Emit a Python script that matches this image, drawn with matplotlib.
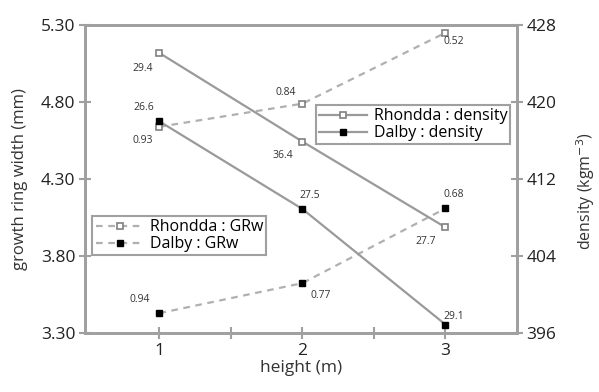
import matplotlib.pyplot as plt

plt.rcParams['font.family'] = ['Open Sans', 'DejaVu Sans']

# datos
altura = [1, 2, 3]
grw_rhondda = [4.64, 4.79, 5.25]
grw_dalby = [3.43, 3.625, 4.11]
dens_rhondda = [425.1, 415.9, 407.0]
dens_dalby = [418.0, 408.9, 396.9]

# etiquetas de los puntos
lab_grw_rhondda = ['0.93', '0.84', '0.52']
lab_grw_dalby = ['0.94', '0.77', '0.68']
lab_dens_rhondda = ['29.4', '36.4', '27.7']
lab_dens_dalby = ['26.6', '27.5', '29.1']

gris = '#9a9a9a'
eje = '#a0a0a0'

fig = plt.figure(figsize=(5.99, 3.92), dpi=100)
ax = fig.add_axes([0.142, 0.15, 0.721, 0.786])
ax2 = ax.twinx()

# crecimiento (eje izquierdo), líneas discontinuas
ax.plot(altura, grw_rhondda, ls=(0, (3, 2.5)), color='#b0b0b0', lw=1.6,
        marker='s', ms=5, mfc='white', mec='#808080', mew=1.2, label='Rhondda : GRw')
ax.plot(altura, grw_dalby, ls=(0, (3, 2.5)), color='#b0b0b0', lw=1.6,
        marker='s', ms=5, mfc='black', mec='black', label='Dalby : GRw')

# densidad (eje derecho), líneas continuas
ax2.plot(altura, dens_rhondda, ls='-', color=gris, lw=1.6,
         marker='s', ms=5, mfc='white', mec='#808080', mew=1.2, label='Rhondda : density')
ax2.plot(altura, dens_dalby, ls='-', color=gris, lw=1.6,
         marker='s', ms=5, mfc='black', mec='black', label='Dalby : density')

fs = 7.5
off_grw_rhondda = [(-12, -10), (-12, 8), (6, -6)]
off_grw_dalby = [(-14, 10), (13, -9), (6, 10)]
off_dens_rhondda = [(-12, -11), (-14, -10), (-14, -10)]
off_dens_dalby = [(-11, 10), (5, 10), (6, 6)]

for i, x in enumerate(altura):
    ax.annotate(lab_grw_rhondda[i], (x, grw_rhondda[i]), xytext=off_grw_rhondda[i],
                textcoords='offset points', ha='center', va='center', fontsize=fs, color='#333333')
    ax.annotate(lab_grw_dalby[i], (x, grw_dalby[i]), xytext=off_grw_dalby[i],
                textcoords='offset points', ha='center', va='center', fontsize=fs, color='#333333')
    ax2.annotate(lab_dens_rhondda[i], (x, dens_rhondda[i]), xytext=off_dens_rhondda[i],
                 textcoords='offset points', ha='center', va='center', fontsize=fs, color='#333333')
    ax2.annotate(lab_dens_dalby[i], (x, dens_dalby[i]), xytext=off_dens_dalby[i],
                 textcoords='offset points', ha='center', va='center', fontsize=fs, color='#333333')

ax.set_xlim(0.48, 3.5)
ax.set_ylim(3.30, 5.30)
ax2.set_ylim(396, 428)
ax.set_xticks([1, 2, 3])
ax.set_xticks([1.5, 2.5], minor=True)
ax.set_yticks([3.30, 3.80, 4.30, 4.80, 5.30])
ax.set_yticklabels(['3.30', '3.80', '4.30', '4.80', '5.30'])
ax2.set_yticks([396, 404, 412, 420, 428])

for a in (ax, ax2):
    for s in a.spines.values():
        s.set_color(eje)
        s.set_linewidth(2)
    a.tick_params(direction='inout', length=8, width=1.5, color=eje,
                  labelsize=12.5, labelcolor='#222222', pad=3)
    a.tick_params(which='minor', direction='inout', length=8, width=1.5, color=eje)
ax.tick_params(axis='x', top=False)

ax.set_xlabel('height (m)', fontsize=12.5, color='#333333', labelpad=1)
ax.set_ylabel('growth ring width (mm)', fontsize=12, color='#333333', labelpad=9)
ax2.set_ylabel('density (kgm$^{-3}$)', fontsize=11.5, color='#333333', labelpad=13)
ax2.yaxis.label.set_y(0.46)

leg1 = ax2.legend(loc='upper left', bbox_to_anchor=(0.535, 0.74), fontsize=11.5,
                  frameon=True, fancybox=False, borderpad=0.2, labelspacing=0.05,
                  handlelength=3, handletextpad=0.4, borderaxespad=0)
leg1.get_frame().set_edgecolor('#888888')
leg1.get_frame().set_linewidth(1.5)

leg2 = ax.legend(loc='upper left', bbox_to_anchor=(0.017, 0.38), fontsize=11.5,
                 frameon=True, fancybox=False, borderpad=0.2, labelspacing=0.05,
                 handlelength=3, handletextpad=0.4, borderaxespad=0)
leg2.get_frame().set_edgecolor('#888888')
leg2.get_frame().set_linewidth(1.5)

fig.savefig('out.png', dpi=100)
